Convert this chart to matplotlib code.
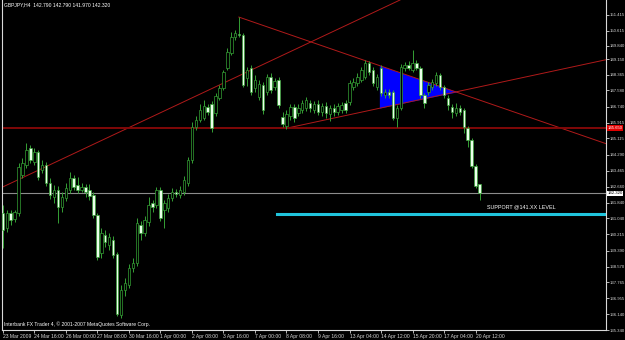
import matplotlib.pyplot as plt
import numpy as np

plt.rcParams['font.family'] = ['Liberation Sans Narrow', 'Liberation Sans', 'DejaVu Sans']

# GBPJPY H4 candles (bar 0 = first visible bar)
opens = [141.32, 140.55, 141.32, 141.01, 141.32, 143.26, 143.77, 144.63, 143.92, 144.43,
         143.51, 143.77, 142.85, 142.13, 142.49, 141.62, 142.08, 142.49, 143.10, 142.75,
         142.49, 142.64, 142.49, 142.24, 141.22, 139.28, 140.20, 139.69, 139.94, 139.23,
         136.12, 137.39, 137.65, 138.51, 138.77, 140.71, 140.30, 140.86, 141.83, 141.73,
         142.49, 141.47, 141.57, 142.08, 142.39, 142.24, 142.39, 142.85, 144.02, 145.70,
         146.06, 146.16, 146.72, 146.88, 146.42, 147.18, 147.69, 148.71, 149.48, 150.29,
         150.45, 150.40, 148.20, 148.71, 147.69, 147.23, 147.85, 147.49, 148.25, 147.74,
         148.10, 146.21, 145.75, 146.26, 146.72, 146.42, 146.57, 146.67, 146.93, 146.57,
         146.88, 146.47, 146.77, 146.37, 146.67, 146.47, 146.57, 146.93, 146.98, 147.74,
         147.95, 148.10, 148.25, 148.97, 148.61, 147.74, 148.71, 147.34, 147.49, 147.49,
         146.16, 146.67, 148.71, 148.87, 148.61, 148.97, 148.71, 147.34, 147.49, 147.74,
         147.95, 148.36, 147.74, 147.18, 146.72, 146.42, 146.67, 146.57, 145.65, 145.04,
         143.71, 142.79]
highs = [141.73, 141.47, 141.47, 141.47, 143.87, 144.12, 144.89, 144.78, 144.63, 144.53,
         144.02, 143.92, 143.10, 142.75, 142.69, 142.39, 142.85, 143.41, 143.26, 143.15,
         142.85, 142.80, 142.80, 142.39, 141.32, 140.55, 140.45, 140.30, 140.14, 139.33,
         137.65, 138.00, 138.72, 139.02, 141.06, 140.91, 141.16, 142.13, 141.98, 142.64,
         142.64, 141.98, 142.29, 142.59, 142.54, 142.69, 143.20, 144.17, 145.96, 146.26,
         146.88, 147.08, 146.88, 147.03, 147.44, 147.85, 148.61, 149.73, 150.55, 150.65,
         151.31, 150.50, 148.76, 148.87, 148.36, 148.10, 148.00, 148.41, 148.46, 148.20,
         148.25, 146.47, 146.57, 146.88, 146.88, 146.88, 147.08, 147.23, 147.08, 147.03,
         147.08, 146.93, 146.98, 146.83, 146.88, 146.93, 146.98, 147.08, 148.10, 148.20,
         148.46, 148.76, 149.12, 149.07, 148.76, 148.41, 148.87, 147.64, 147.64, 147.59,
         146.83, 148.92, 149.02, 149.07, 149.63, 149.12, 148.81, 147.44, 148.00, 148.15,
         148.51, 148.46, 147.85, 147.34, 146.88, 146.93, 146.83, 146.67, 145.75, 145.14,
         143.82, 142.79]
lows = [139.53, 140.35, 140.71, 140.86, 141.16, 143.10, 143.61, 143.87, 143.77, 143.00,
        143.36, 142.69, 142.03, 141.83, 140.81, 141.37, 141.93, 142.34, 142.49, 142.34,
        142.39, 142.13, 141.98, 141.06, 138.92, 139.02, 139.58, 139.43, 139.02, 136.06,
        135.96, 137.08, 137.49, 138.31, 138.61, 139.94, 140.14, 140.65, 141.37, 141.57,
        140.91, 140.55, 141.37, 141.93, 142.13, 142.08, 142.24, 142.69, 143.87, 145.55,
        145.96, 146.06, 146.32, 145.45, 146.26, 147.08, 147.59, 148.61, 149.38, 150.14,
        150.29, 147.74, 147.79, 147.34, 147.49, 147.08, 146.37, 147.34, 147.44, 147.59,
        146.67, 145.70, 145.60, 146.06, 145.96, 146.26, 146.42, 146.52, 146.47, 146.42,
        146.32, 146.26, 146.16, 146.01, 146.26, 146.32, 146.42, 146.42, 146.83, 147.59,
        147.79, 148.00, 148.15, 148.36, 147.79, 147.59, 147.28, 147.18, 147.18, 146.06,
        145.70, 146.57, 148.56, 148.61, 148.51, 148.61, 147.18, 146.67, 147.34, 147.59,
        147.79, 147.59, 147.18, 146.57, 146.16, 146.26, 146.32, 145.40, 144.68, 143.61,
        142.59, 141.97]
closes = [140.45, 141.32, 140.96, 141.37, 143.66, 143.87, 144.53, 144.02, 144.43, 143.15,
          143.77, 142.85, 142.24, 142.49, 141.62, 142.13, 142.59, 143.10, 142.64, 142.49,
          142.64, 142.39, 142.18, 141.22, 139.07, 140.30, 139.84, 140.09, 139.18, 136.17,
          137.39, 137.75, 138.51, 138.77, 140.81, 140.30, 140.96, 141.73, 141.62, 142.49,
          141.06, 141.83, 142.08, 142.39, 142.29, 142.49, 143.00, 144.02, 145.70, 146.06,
          146.57, 146.77, 146.47, 145.65, 147.28, 147.69, 148.51, 149.53, 150.29, 150.50,
          150.40, 147.85, 148.61, 147.49, 148.10, 147.90, 146.57, 148.25, 147.59, 148.05,
          146.83, 145.86, 146.37, 146.72, 146.16, 146.67, 146.93, 147.08, 146.67, 146.88,
          146.47, 146.77, 146.42, 146.67, 146.47, 146.77, 146.83, 146.57, 147.95, 148.00,
          148.25, 148.61, 148.97, 148.51, 147.95, 148.25, 147.44, 147.49, 147.34, 146.16,
          146.67, 148.76, 148.87, 148.71, 148.97, 148.71, 147.34, 146.93, 147.85, 148.00,
          148.36, 147.74, 147.34, 146.83, 146.47, 146.67, 146.47, 145.70, 145.04, 143.71,
          142.69, 142.32]

date_labels = ['23 Mar 2009', '24 Mar 16:00', '26 Mar 00:00', '27 Mar 08:00', '30 Mar 16:00',
               '1 Apr 00:00', '2 Apr 08:00', '3 Apr 16:00', '7 Apr 00:00', '8 Apr 08:00',
               '9 Apr 16:00', '13 Apr 04:00', '14 Apr 12:00', '15 Apr 20:00', '17 Apr 04:00',
               '20 Apr 12:00']
price_ticks = [151.415, 150.615, 149.840, 149.150, 148.365, 147.580, 146.740, 145.915,
               145.115, 144.290, 143.465, 142.660, 141.840, 141.040, 140.215, 139.390,
               138.570, 137.765, 136.955, 136.140, 135.340]

# drawn objects (bar index, price)
uptrend = [(0, 142.64), (78.2, 150.04)]
downtrend = [(59.9, 151.31), (115.0, 147.49)]
lower_trend = [(72.3, 145.65), (115.0, 147.49)]
triangle = [(95.7, 148.82), (95.7, 146.64), (115.5, 147.47)]
resistance = 145.65
support = 141.27
support_start = 69.5
bid = 142.32

BG = 'black'
GREEN = '#35a035'
FG = '#d8d8d8'
FS = 3.6
YFS = 3.1

fig = plt.figure(figsize=(6.25, 3.4), dpi=100, facecolor=BG)
ax = fig.add_axes([2 / 625, 10 / 340, 604 / 625, 330 / 340], facecolor=BG)

xmax = 153.1
y0, y1 = 135.34, 152.18
ax.set_xlim(-0.2, xmax)
ax.set_ylim(y0, y1)

# triangle behind candles
ax.fill([p[0] for p in triangle], [p[1] for p in triangle], color='#0000ff', zorder=1, lw=0)

# candles
n = len(opens)
idx = np.arange(n)
o = np.array(opens); c = np.array(closes)
ax.vlines(idx, lows, highs, color=GREEN, lw=0.7, zorder=3)
bottoms = np.minimum(o, c)
heights = np.maximum(np.abs(c - o), 0.02)
faces = ['black' if cc >= oo else '#eaffea' for oo, cc in zip(o, c)]
ax.bar(idx, heights, bottom=bottoms, width=0.62, color=faces, edgecolor=GREEN,
       linewidth=0.5, zorder=4)

# trend lines
ax.axline(uptrend[0], uptrend[1], color='#b01a1a', lw=0.7, zorder=2)

def ray(pts):
    (x1, y1_), (x2, y2_) = pts
    k = (y2_ - y1_) / (x2 - x1)
    ax.plot([x1, xmax], [y1_, y1_ + k * (xmax - x1)], color='#b01a1a', lw=0.7, zorder=2)

ray(downtrend)
ray(lower_trend)

ax.axhline(resistance, color='#800808', lw=1.4, zorder=2)
ax.axhline(bid, color='#8c8c8c', lw=0.8, zorder=2)
ax.plot([support_start, xmax], [support, support], color='#20c4dc', lw=2.2, zorder=2)
ax.text(123, 141.62, 'SUPPORT @141.XX LEVEL', color='white', fontsize=3.9,
        va='center', ha='left')

# axes styling
ax.spines['top'].set_visible(False)
for s in ['left', 'right', 'bottom']:
    ax.spines[s].set_color(FG)
    ax.spines[s].set_linewidth(0.8)
ax.yaxis.tick_right()
ax.set_yticks(price_ticks)
ax.set_yticklabels(['%.3f' % v for v in price_ticks])
ax.tick_params(axis='y', colors=FG, labelcolor=FG, labelsize=YFS, length=1.8, width=0.6, pad=0.6)
ax.set_xticks(np.arange(len(date_labels)) * 8)
ax.set_xticklabels(date_labels, ha='left')
ax.tick_params(axis='x', colors=FG, labelcolor=FG, labelsize=FS, length=2, width=0.6, pad=0.8)

# price labels on the scale
ax.text(1.002, (resistance - y0) / (y1 - y0), '%.3f' % resistance,
        transform=ax.transAxes, fontsize=YFS, color='white', va='center', ha='left',
        bbox=dict(boxstyle='square,pad=0.15', fc='#e00000', ec='none'))
ax.text(1.002, (bid - y0) / (y1 - y0), '%.3f' % bid,
        transform=ax.transAxes, fontsize=YFS, color='black', va='center', ha='left',
        bbox=dict(boxstyle='square,pad=0.15', fc='white', ec='none'))

ax.text(0.004, 0.992, 'GBPJPY,H4  142.790 142.790 141.970 142.320', transform=ax.transAxes,
        color='white', fontsize=FS, va='top', ha='left')
ax.text(0.003, 0.008, 'Interbank FX Trader 4, \u00a9 2001-2007 MetaQuotes Software Corp.',
        transform=ax.transAxes, color='white', fontsize=FS, va='bottom', ha='left')

fig.savefig('out.png', dpi=100, facecolor=BG)
